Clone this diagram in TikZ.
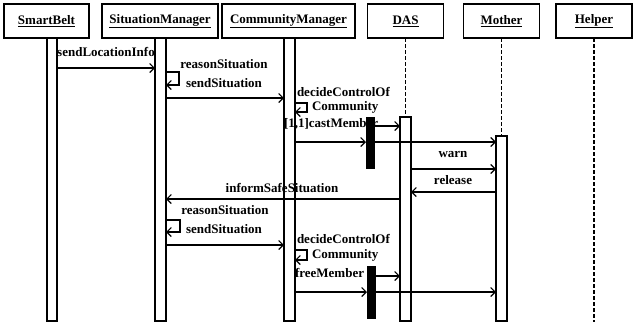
\documentclass[tikz,border=0pt]{standalone}
\usepackage{fontspec}
\setmainfont{Liberation Serif}
\usetikzlibrary{arrows.meta}
\begin{document}
\begin{tikzpicture}[x=1pt,y=-1pt,
  every node/.style={font=\fontsize{13}{15}\selectfont\bfseries, inner sep=0pt, outer sep=0pt},
  head/.style={draw, line width=1.3pt, minimum height=34pt},
  actbar/.style={draw, fill=white, line width=1.1pt, minimum width=11pt},
  forkbar/.style={draw, fill=black, line width=0.6pt, minimum width=8pt},
  life/.style={line width=1.1pt, dash pattern=on 4pt off 2pt},
  msg/.style={line width=1.1pt, -{Straight Barb[length=4.5pt,width=9pt,line width=1.1pt]}}
]
\useasboundingbox (0,0) rectangle (637,325);
\fill[white] (0,0) rectangle (637,325);

% heads
\node[head, minimum width=85pt]  (sbh) at (46.5,21) {\underline{SmartBelt}};
\node[head, minimum width=116pt] (smh) at (160,21) {\underline{SituationManager}};
\node[head, minimum width=133pt] (cmh) at (288.5,21) {\underline{CommunityManager}};
\node[head, minimum width=76pt]  (dah) at (405.5,21) {\underline{DAS}};
\node[head, minimum width=76pt]  (moh) at (501.5,21) {\underline{Mother}};
\node[head, minimum width=76pt]  (heh) at (594,21) {\underline{Helper}};

% activation bars
\node[actbar, minimum width=10pt, minimum height=283pt] (sbb) at (52,179.5) {};
\node[actbar, minimum height=283pt] (smb) at (160.5,179.5) {};
\node[actbar, minimum height=283pt] (cmb) at (289.5,179.5) {};
\node[actbar, minimum height=204pt] (dab) at (405.5,219) {};
\node[actbar, minimum height=185pt] (mob) at (501.5,228.5) {};

% dashed lifelines
\coordinate (heend) at (594,322);
\draw[life] (dah.south) -- (dab.north);
\draw[life] (moh.south) -- (mob.north);
\draw[life] (heh.south) -- (heend);

% sendLocationInfo
\node (l1) at (106,52) {sendLocationInfo};
\draw[msg] (sbb.east |- 0,68) -- (smb.west |- 0,68);

% reasonSituation / sendSituation
\node (l2) at (224,64) {reasonSituation};
\draw[msg] (smb.east |- 0,72) -- ++(13,0) |- (smb.east |- 0,85);
\node (l3) at (224,83) {sendSituation};
\draw[msg] (smb.east |- 0,98) -- (cmb.west |- 0,98);

% decideControlOf Community
\node[anchor=west] (l4) at (297,92) {decideControlOf};
\node[anchor=west] (l5) at (312,107) {Community};
\draw[msg] (cmb.east |- 0,103) -- ++(12,0) |- (cmb.east |- 0,112);
\node[anchor=west] (l6) at (284,124) {[1,1]castMember};
\node[forkbar, minimum height=51pt] (fa) at (370,142.5) {};
\draw[msg] (fa.east |- 0,126) -- (dab.west |- 0,126);
\draw[msg] (cmb.east |- 0,142) -- (fa.west |- 0,142);
\draw[msg] (fa.east |- 0,142) -- (mob.west |- 0,142);

% warn / release
\node (l7) at (453,154) {warn};
\draw[msg] (dab.east |- 0,169) -- (mob.west |- 0,169);
\node (l8) at (453,180) {release};
\draw[msg] (mob.west |- 0,192) -- (dab.east |- 0,192);

% informSafeSituation
\node (l9) at (282,188) {informSafeSituation};
\draw[msg] (dab.west |- 0,199) -- (smb.east |- 0,199);

% second reasonSituation / sendSituation
\node (l10) at (225,210) {reasonSituation};
\draw[msg] (smb.east |- 0,220) -- ++(14,0) |- (smb.east |- 0,232);
\node (l11) at (224,229) {sendSituation};
\draw[msg] (smb.east |- 0,245) -- (cmb.west |- 0,245);

% second decideControlOf Community
\node[anchor=west] (l12) at (297,239) {decideControlOf};
\node[anchor=west] (l13) at (312,255) {Community};
\draw[msg] (cmb.east |- 0,250) -- ++(12,0) |- (cmb.east |- 0,260);
\node[anchor=west] (l14) at (295,273) {freeMember};
\node[forkbar, minimum height=52pt] (fb) at (371,292) {};
\draw[msg] (fb.east |- 0,276) -- (dab.west |- 0,276);
\draw[msg] (cmb.east |- 0,292) -- (fb.west |- 0,292);
\draw[msg] (fb.east |- 0,292) -- (mob.west |- 0,292);
\end{tikzpicture}
\end{document}
